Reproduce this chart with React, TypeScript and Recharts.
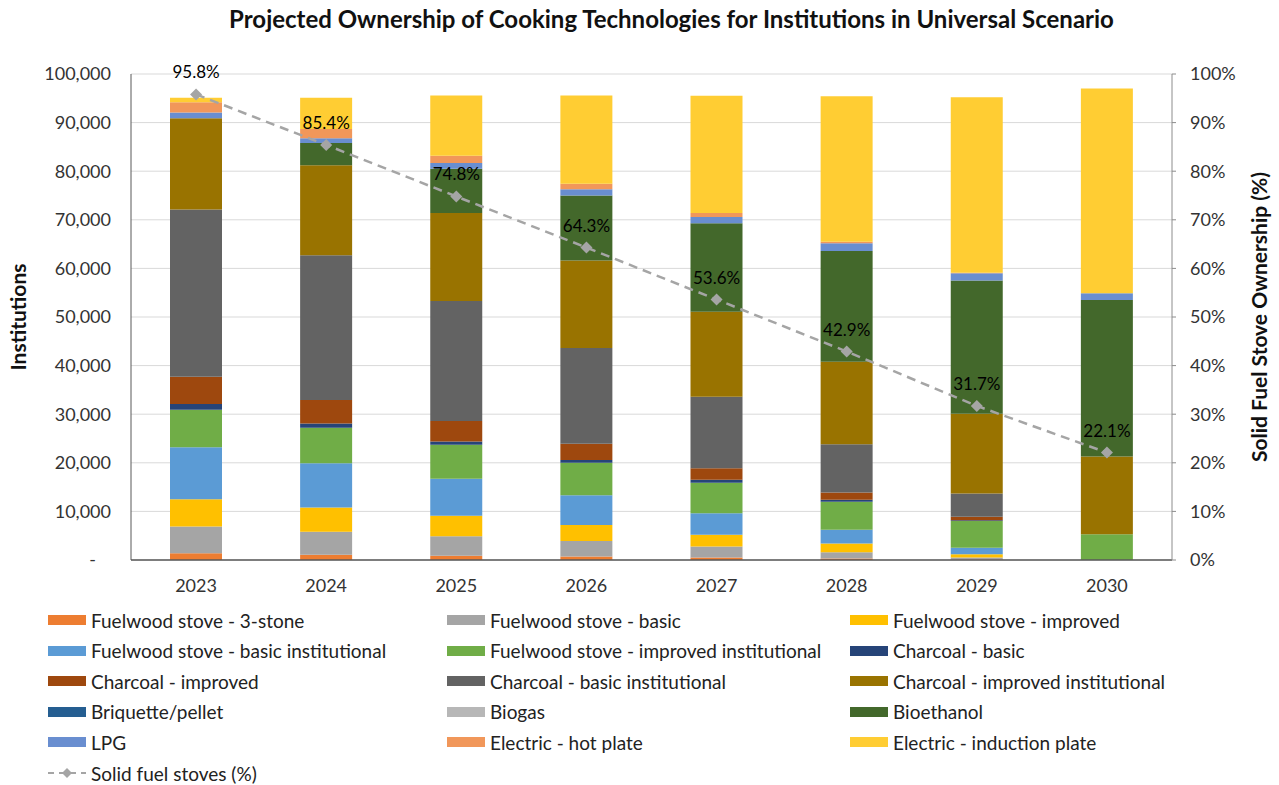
import React from "react";
import {
  Bar,
  CartesianGrid,
  ComposedChart,
  LabelList,
  Line,
  XAxis,
  YAxis,
} from "recharts";

const YEARS = ["2023", "2024", "2025", "2026", "2027", "2028", "2029", "2030"];

const FW_3STONE = [1400, 1100, 900, 700, 500, 300, 100, 0];
const FW_BASIC = [5500, 4700, 4000, 3200, 2300, 1300, 400, 0];
const FW_IMPROVED = [5600, 5000, 4200, 3300, 2400, 1800, 700, 0];
const FW_BASIC_INST = [10700, 9100, 7600, 6100, 4400, 2800, 1300, 0];
const FW_IMPROVED_INST = [7700, 7300, 7000, 6700, 6300, 5800, 5500, 5300];
const CH_BASIC = [1200, 900, 700, 600, 600, 400, 200, 0];
const CH_IMPROVED = [5600, 4800, 4200, 3300, 2400, 1500, 700, 0];
const CH_BASIC_INST = [34400, 29800, 24700, 19700, 14700, 9900, 4800, 0];
const CH_IMPROVED_INST = [18800, 18500, 18100, 18000, 17500, 17000, 16400, 16000];
const BRIQUETTE = [0, 0, 0, 0, 0, 0, 0, 0];
const BIOGAS = [0, 0, 0, 0, 0, 0, 0, 0];
const BIOETHANOL = [0, 4600, 9100, 13400, 18200, 22800, 27400, 32200];
const LPG = [1200, 1000, 1200, 1300, 1300, 1600, 1500, 1400];
const HOT_PLATE = [2100, 1900, 1500, 1100, 800, 300, 100, 0];
const INDUCTION = [900, 6400, 12400, 18200, 24100, 29900, 36100, 42100];

const SOLID_PCT = [95.8, 85.4, 74.8, 64.3, 53.6, 42.9, 31.7, 22.1];

const LEFT_TICKS = [0, 10000, 20000, 30000, 40000, 50000, 60000, 70000, 80000, 90000, 100000];
const RIGHT_TICKS = [0, 10, 20, 30, 40, 50, 60, 70, 80, 90, 100];

const SERIES = [
  { key: "fw3", label: "Fuelwood stove - 3-stone", color: "#ED7D31", values: FW_3STONE },
  { key: "fwb", label: "Fuelwood stove - basic", color: "#A5A5A5", values: FW_BASIC },
  { key: "fwi", label: "Fuelwood stove - improved", color: "#FFC000", values: FW_IMPROVED },
  { key: "fwbi", label: "Fuelwood stove - basic institutional", color: "#5B9BD5", values: FW_BASIC_INST },
  { key: "fwii", label: "Fuelwood stove - improved institutional", color: "#70AD47", values: FW_IMPROVED_INST },
  { key: "chb", label: "Charcoal - basic", color: "#264478", values: CH_BASIC },
  { key: "chi", label: "Charcoal - improved", color: "#9E480E", values: CH_IMPROVED },
  { key: "chbi", label: "Charcoal - basic institutional", color: "#636363", values: CH_BASIC_INST },
  { key: "chii", label: "Charcoal - improved institutional", color: "#997300", values: CH_IMPROVED_INST },
  { key: "bri", label: "Briquette/pellet", color: "#255E91", values: BRIQUETTE },
  { key: "bio", label: "Biogas", color: "#B7B7B7", values: BIOGAS },
  { key: "eth", label: "Bioethanol", color: "#43682B", values: BIOETHANOL },
  { key: "lpg", label: "LPG", color: "#698ED0", values: LPG },
  { key: "hot", label: "Electric - hot plate", color: "#F1975A", values: HOT_PLATE },
  { key: "ind", label: "Electric - induction plate", color: "#FFCD33", values: INDUCTION },
];

const data = YEARS.map((year, i) => {
  const row: Record<string, number | string> = { year, pct: SOLID_PCT[i] };
  SERIES.forEach((s) => {
    row[s.key] = s.values[i];
  });
  return row;
});

const FONT = "Lato, 'Open Sans', sans-serif";
const LINE_GREY = "#A5A5A5";
const LEGEND_COLS = [48, 447, 850];
const LEGEND_ROW0 = 620;
const LEGEND_ROW_H = 30.6;

function Diamond(props: any) {
  const { cx, cy } = props;
  if (cx == null || cy == null) return null;
  const r = 6;
  return (
    <path
      d={`M${cx},${cy - r} L${cx + r},${cy} L${cx},${cy + r} L${cx - r},${cy} Z`}
      fill={LINE_GREY}
    />
  );
}

function LeftTick(props: any) {
  const { x, y, payload } = props;
  const isZero = payload.value === 0;
  return (
    <text
      x={isZero ? x - 15 : x}
      y={y}
      dy="0.35em"
      textAnchor="end"
      fontSize={18}
      fill="#333"
      fontFamily={FONT}
    >
      {isZero ? "-" : payload.value.toLocaleString("en-US")}
    </text>
  );
}

export default function App() {
  return (
    <div
      style={{
        position: "absolute",
        left: 0,
        top: 0,
        width: 1279,
        height: 785,
        background: "#fff",
        fontFamily: FONT,
        color: "#222",
      }}
    >
      <div
        style={{
          position: "absolute",
          left: 32,
          width: 1279,
          top: 4,
          textAlign: "center",
          fontWeight: 700,
          fontSize: 24,
          color: "#111",
        }}
      >
        Projected Ownership of Cooking Technologies for Institutions in Universal Scenario
      </div>

      <ComposedChart
        width={1279}
        height={600}
        data={data}
        margin={{ top: 74, right: 0, bottom: 0, left: 0 }}
        barSize={52}
      >
        <CartesianGrid vertical={false} stroke="#D9D9D9" yAxisId="left" />
        <XAxis
          dataKey="year"
          height={40}
          tickLine={false}
          axisLine={{ stroke: "#595959", strokeWidth: 1.5 }}
          tickMargin={13}
          tick={{ fontSize: 18, fill: "#333", fontFamily: FONT }}
        />
        <YAxis
          yAxisId="left"
          width={131}
          domain={[0, 100000]}
          ticks={LEFT_TICKS}
          interval={0}
          tickLine={false}
          tickSize={0}
          tickMargin={20}
          axisLine={{ stroke: "#595959" }}
          tick={<LeftTick />}
        />
        <YAxis
          yAxisId="right"
          orientation="right"
          width={107}
          domain={[0, 100]}
          ticks={RIGHT_TICKS}
          interval={0}
          tickSize={4}
          tickMargin={14}
          tickLine={{ stroke: "#8C8C8C" }}
          axisLine={{ stroke: "#8C8C8C" }}
          tickFormatter={(v: number) => `${v}%`}
          tick={{ fontSize: 18, fill: "#333", fontFamily: FONT }}
        />
        {SERIES.map((s) => (
          <Bar
            key={s.key}
            dataKey={s.key}
            name={s.label}
            stackId="stack"
            yAxisId="left"
            fill={s.color}
            isAnimationActive={false}
          />
        ))}
        <Line
          yAxisId="right"
          dataKey="pct"
          name="Solid fuel stoves (%)"
          stroke={LINE_GREY}
          strokeWidth={2.5}
          strokeDasharray="9 6"
          dot={<Diamond />}
          activeDot={false}
          isAnimationActive={false}
        >
          <LabelList
            dataKey="pct"
            position="top"
            offset={16}
            formatter={(v: number) => `${v}%`}
            fill="#000"
            fontSize={17}
            fontFamily={FONT}
          />
        </Line>
      </ComposedChart>

      <div
        style={{
          position: "absolute",
          left: 17,
          top: 317,
          transform: "translate(-50%, -50%) rotate(-90deg)",
          fontWeight: 700,
          fontSize: 21,
          color: "#111",
          whiteSpace: "nowrap",
        }}
      >
        Institutions
      </div>
      <div
        style={{
          position: "absolute",
          left: 1258,
          top: 317,
          transform: "translate(-50%, -50%) rotate(-90deg)",
          fontWeight: 700,
          fontSize: 21,
          color: "#111",
          whiteSpace: "nowrap",
        }}
      >
        Solid Fuel Stove Ownership (%)
      </div>

      {SERIES.map((s, i) => {
        const col = i % 3;
        const row = Math.floor(i / 3);
        return (
          <div
            key={s.key}
            style={{
              position: "absolute",
              left: LEGEND_COLS[col],
              top: LEGEND_ROW0 + row * LEGEND_ROW_H - 12,
              height: 24,
              display: "flex",
              alignItems: "center",
              fontSize: 19,
              color: "#222",
              whiteSpace: "nowrap",
            }}
          >
            <span
              style={{
                display: "inline-block",
                width: 38,
                height: 10,
                background: s.color,
                marginRight: 5,
              }}
            />
            {s.label}
          </div>
        );
      })}
      <div
        style={{
          position: "absolute",
          left: LEGEND_COLS[0],
          top: LEGEND_ROW0 + 5 * LEGEND_ROW_H - 12,
          height: 24,
          display: "flex",
          alignItems: "center",
          fontSize: 19,
          color: "#222",
          whiteSpace: "nowrap",
        }}
      >
        <svg width={38} height={12} style={{ marginRight: 5 }}>
          <line x1={0} y1={6} x2={38} y2={6} stroke={LINE_GREY} strokeWidth={2} strokeDasharray="6 5" />
          <path d="M19,1 L24,6 L19,11 L14,6 Z" fill={LINE_GREY} />
        </svg>
        Solid fuel stoves (%)
      </div>
    </div>
  );
}
